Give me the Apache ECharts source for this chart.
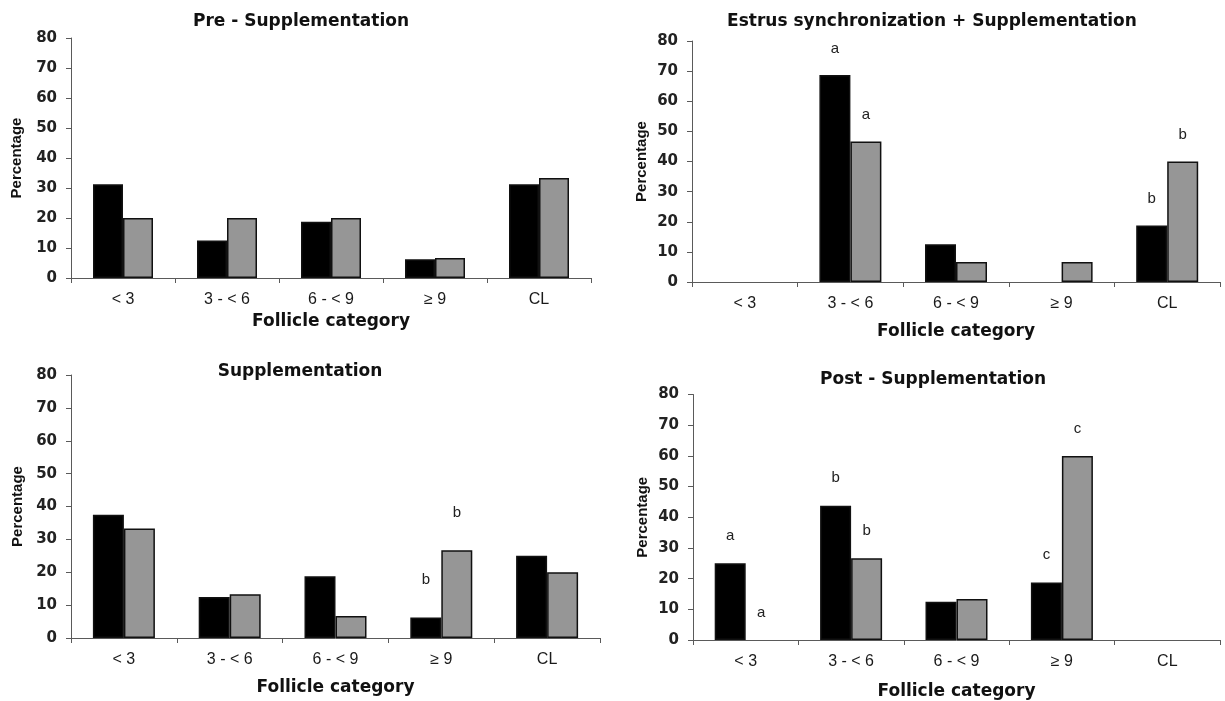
<!DOCTYPE html>
<html>
<head>
<meta charset="utf-8">
<script src="https://cdn.jsdelivr.net/npm/echarts@6/dist/echarts.min.js"></script>
<style>
html,body{margin:0;padding:0;background:#fff;}
#chart{width:1225px;height:701px;}
</style>
</head>
<body>
<div id="chart"></div>
<script>
// ---- data ----
var categories = ['< 3', '3 - < 6', '6 - < 9', '≥ 9', 'CL'];
var yTicks = [0, 10, 20, 30, 40, 50, 60, 70, 80];

var titles = ['Pre - Supplementation', 'Estrus synchronization + Supplementation', 'Supplementation', 'Post - Supplementation'];

var preBlack  = [31.25, 12.5, 18.75, 6.25, 31.25];
var preGray   = [20, 20, 20, 6.67, 33.33];
var esBlack   = [0, 68.75, 12.5, 0, 18.75];
var esGray    = [0, 46.67, 6.67, 6.67, 40];
var supBlack  = [37.5, 12.5, 18.75, 6.25, 25];
var supGray   = [33.33, 13.33, 6.67, 26.67, 20];
var postBlack = [25, 43.75, 12.5, 18.75, 0];
var postGray  = [0, 26.67, 13.33, 60, 0];

var preBlackLbl  = ['', '', '', '', ''];
var preGrayLbl   = ['', '', '', '', ''];
var esBlackLbl   = ['', 'a', '', '', 'b'];
var esGrayLbl    = ['', 'a', '', '', 'b'];
var supBlackLbl  = ['', '', '', 'b', ''];
var supGrayLbl   = ['', '', '', 'b', ''];
var postBlackLbl = ['a', 'b', '', 'c', ''];
var postGrayLbl  = ['a', 'b', '', 'c', ''];

// ---- layout ----
var panels = [
  {grid:{left:71, top:38, width:520, height:240}, black:preBlack, gray:preGray, bl:preBlackLbl, gl:preGrayLbl, dist:19, xGap:35, yGap:48, bw:30, title:[301,22]},
  {grid:{left:692, top:41, width:528, height:241}, black:esBlack, gray:esGray, bl:esBlackLbl, gl:esGrayLbl, dist:19, xGap:41, yGap:44, bw:31, title:[932,22]},
  {grid:{left:71, top:375, width:529, height:263}, black:supBlack, gray:supGray, bl:supBlackLbl, gl:supGrayLbl, dist:30, xGap:41, yGap:47, bw:31, title:[300,372]},
  {grid:{left:693, top:394.5, width:527, height:245.5}, black:postBlack, gray:postGray, bl:postBlackLbl, gl:postGrayLbl, dist:20, xGap:43, yGap:44, bw:31, title:[933,380]}
];

var FONT = 'DejaVu Sans';
var axisColor = '#5a5a5a';
var grids = [], xAxes = [], yAxes = [], series = [], graphics = [];

function barData(vals) {
  return vals.map(function (v) {
    return v === 0 ? {value: v, itemStyle: {borderWidth: 0}} : {value: v};
  });
}

panels.forEach(function (p, i) {
  var g = Object.assign({containLabel: false, outerBoundsMode: 'none'}, p.grid);
  grids.push(g);
  xAxes.push({
    type: 'category', gridIndex: i, data: categories, boundaryGap: true,
    axisLine: {show: true, lineStyle: {color: axisColor, width: 1}},
    axisTick: {show: true, length: 5, lineStyle: {color: axisColor}},
    axisLabel: {margin: 14, fontFamily: 'Liberation Sans', fontSize: 16, color: '#1a1a1a'},
    splitLine: {show: false},
    name: 'Follicle category', nameLocation: 'middle', nameGap: p.xGap,
    nameTextStyle: {fontFamily: FONT, fontWeight: 'bold', fontSize: 17, color: '#111'}
  });
  yAxes.push({
    type: 'value', gridIndex: i, min: 0, max: 80, interval: 10,
    axisLine: {show: true, lineStyle: {color: axisColor, width: 1}},
    axisTick: {show: true, length: 5, lineStyle: {color: axisColor}},
    axisLabel: {margin: 14, fontFamily: FONT, fontSize: 15, fontWeight: 'bold', color: '#222',
      formatter: function (v) { return yTicks.indexOf(v) >= 0 ? String(v) : ''; }},
    splitLine: {show: false},
    name: 'Percentage', nameLocation: 'middle', nameGap: p.yGap - 1,
    nameTextStyle: {fontFamily: 'Liberation Sans', fontWeight: 'bold', fontSize: 15, color: '#111'}
  });
  [[p.black, p.bl, '#000000'], [p.gray, p.gl, '#969696']].forEach(function (s) {
    var lbls = s[1];
    series.push({
      type: 'bar', xAxisIndex: i, yAxisIndex: i, data: barData(s[0]),
      barWidth: p.bw, barGap: '0%',
      itemStyle: {color: s[2], borderColor: '#111', borderWidth: 1.5},
      label: {show: true, position: 'top', distance: p.dist, fontFamily: 'Liberation Sans', fontSize: 15, color: '#222',
        formatter: function (q) { return lbls[q.dataIndex]; }},
      emphasis: {disabled: true}, animation: false
    });
  });
  graphics.push({
    type: 'text', x: p.title[0], y: p.title[1],
    style: {text: titles[i], fontFamily: FONT, fontWeight: 'bold', fontSize: 17, fill: '#111',
      textAlign: 'center', textVerticalAlign: 'middle'}
  });
});

var chart = echarts.init(document.getElementById('chart'), null, {renderer: 'canvas'});
chart.setOption({
  backgroundColor: '#fff',
  animation: false,
  grid: grids, xAxis: xAxes, yAxis: yAxes, series: series,
  graphic: graphics
});
</script>
</body>
</html>
